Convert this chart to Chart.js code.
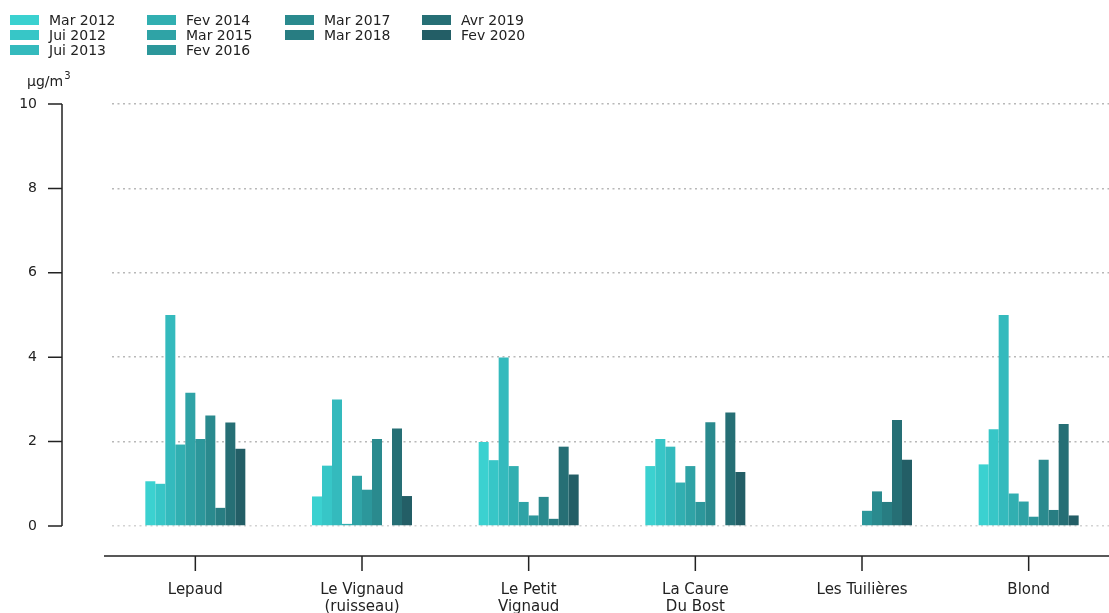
<!DOCTYPE html>
<html>
<head>
<meta charset="utf-8">
<script src="https://cdn.jsdelivr.net/npm/chart.js@4.4.1/dist/chart.umd.min.js"></script>
<style>
  html, body { margin: 0; padding: 0; background: #fff; overflow: hidden; }
  #wrap { position: relative; width: 1109px; height: 613px; overflow: hidden; }
  #chart { position: absolute; left: 0; top: 0; }
  #legend { position: absolute; left: 0; top: 0; font: 14px "DejaVu Sans"; color: #222; }
  .item { position: absolute; white-space: nowrap; height: 15px; line-height: 15px; }
  .sw { position: absolute; left: 0; top: 2px; width: 29px; height: 10px; }
  .lbl { position: absolute; left: 39px; top: 0; }
</style>
</head>
<body>
<div id="wrap">
  <canvas id="chart" width="1120" height="613"></canvas>
  <div id="legend"></div>
</div>
<script>
// sites (x categories)
const sites = ['Lepaud', ['Le Vignaud', '(ruisseau)'], ['Le Petit', 'Vignaud'], ['La Caure', 'Du Bost'], 'Les Tuilières', 'Blond'];
const periods = ['Mar 2012', 'Jui 2012', 'Jui 2013', 'Fev 2014', 'Mar 2015', 'Fev 2016', 'Mar 2017', 'Mar 2018', 'Avr 2019', 'Fev 2020'];

// values per campaign, in the order of sites (µg/m3)
const mar2012 = [1.06, 0.70, 1.99, 1.42, null, 1.46];
const jui2012 = [1.00, 1.43, 1.56, 2.06, null, 2.29];
const jui2013 = [5.00, 3.00, 3.99, 1.88, null, 5.00];
const fev2014 = [1.93, 0.05, 1.42, 1.03, null, 0.77];
const mar2015 = [3.16, 1.19, 0.57, 1.42, null, 0.58];
const fev2016 = [2.06, 0.86, 0.25, 0.57, 0.36, 0.22];
const mar2017 = [2.62, 2.06, 0.69, 2.46, 0.82, 1.57];
const mar2018 = [0.43, null, 0.17, null, 0.57, 0.38];
const avr2019 = [2.45, 2.31, 1.88, 2.69, 2.51, 2.42];
const fev2020 = [1.83, 0.71, 1.22, 1.28, 1.57, 0.25];
const seriesValues = [mar2012, jui2012, jui2013, fev2014, mar2015, fev2016, mar2017, mar2018, avr2019, fev2020];

const yTicks = [0, 2, 4, 6, 8, 10];

const colours = ['#3bd1d0', '#37c6c7', '#34babd', '#31afb1', '#2fa3a6', '#2c979b', '#2a8a8e', '#287d82', '#266f75', '#235e66'];

// matplotlib-like offset spines, ticks and unit label
const axisLines = {
  id: 'axisLines',
  afterDraw(chart) {
    const { ctx, scales: { x, y } } = chart;
    ctx.save();
    ctx.strokeStyle = '#222';
    ctx.lineWidth = 1.5;
    ctx.beginPath();
    ctx.moveTo(62, y.getPixelForValue(0));
    ctx.lineTo(62, y.getPixelForValue(10));
    yTicks.forEach(v => {
      const py = y.getPixelForValue(v);
      ctx.moveTo(48, py);
      ctx.lineTo(62, py);
    });
    const base = y.getPixelForValue(0) + 30;
    ctx.moveTo(104, base);
    ctx.lineTo(chart.width, base);
    sites.forEach((s, i) => {
      const px = x.getPixelForValue(i);
      ctx.moveTo(px, base);
      ctx.lineTo(px, base + 15);
    });
    ctx.stroke();

    ctx.fillStyle = '#222';
    ctx.textBaseline = 'alphabetic';
    ctx.font = '14px "DejaVu Sans"';
    ctx.fillText('µg/m', 27, 86);
    const w = ctx.measureText('µg/m').width;
    ctx.font = '10px "DejaVu Sans"';
    ctx.fillText('3', 27 + w + 1, 79);
    ctx.restore();
  }
};

const chart = new Chart(document.getElementById('chart'), {
  type: 'bar',
  data: {
    labels: sites,
    datasets: periods.map((p, i) => ({
      label: p,
      data: seriesValues[i],
      backgroundColor: colours[i],
      borderWidth: 0,
      categoryPercentage: 0.6,
      barPercentage: 1
    }))
  },
  options: {
    responsive: false,
    animation: false,
    layout: { padding: { top: 104, right: 8, left: 0, bottom: 0 } },
    plugins: { legend: { display: false }, tooltip: { enabled: false } },
    scales: {
      x: {
        grid: { display: false },
        border: { display: false },
        ticks: {
          padding: 48,
          color: '#222',
          autoSkip: false,
          maxRotation: 0,
          font: { family: 'DejaVu Sans', size: 15, lineHeight: 1.1 }
        },
        afterFit: s => { s.height = 87; }
      },
      y: {
        min: 0,
        max: 10,
        afterBuildTicks: s => { s.ticks = yTicks.map(v => ({ value: v })); },
        grid: {
          drawTicks: false,
          lineWidth: 1.5,
          color: c => c.tick && c.tick.value === 0 ? '#d2d2d2' : '#b8b8b8'
        },
        border: { display: false, dash: [2, 3.5] },
        ticks: {
          padding: 75,
          color: '#222',
          font: { family: 'DejaVu Sans', size: 14 }
        },
        afterFit: s => { s.width = 112; }
      }
    }
  },
  plugins: [axisLines]
});

// legend: 4 columns filled column by column like matplotlib (3,3,2,2)
const legendEl = document.getElementById('legend');
const colX = [10, 147, 285, 422];
const nCols = 4;
const nRows = Math.ceil(periods.length / nCols);
const full = periods.length % nCols || nCols;
let idx = 0;
for (let c = 0; c < nCols; c++) {
  const rows = c < full ? nRows : nRows - 1;
  for (let r = 0; r < rows && idx < periods.length; r++, idx++) {
    const item = document.createElement('div');
    item.className = 'item';
    item.style.left = colX[c] + 'px';
    item.style.top = (13 + r * 15) + 'px';
    item.innerHTML = '<span class="sw" style="background:' + colours[idx] + '"></span><span class="lbl">' + periods[idx] + '</span>';
    legendEl.appendChild(item);
  }
}
</script>
</body>
</html>
